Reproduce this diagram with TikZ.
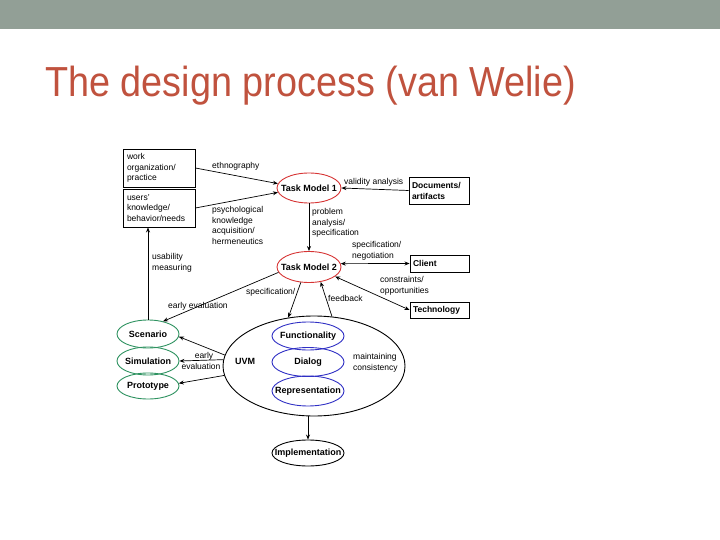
\documentclass[tikz,border=0pt]{standalone}
\usepackage{fontspec}
\setmainfont{Liberation Sans}
\usetikzlibrary{shapes.geometric,arrows.meta,positioning}

\definecolor{barGray}{RGB}{146,159,150}
\definecolor{titleRed}{RGB}{192,82,62}
\definecolor{tmRed}{RGB}{214,52,52}
\definecolor{uvmBlue}{RGB}{48,48,196}
\definecolor{protoGreen}{RGB}{46,146,96}

\tikzset{
  lbl/.style={font=\fontsize{8.5}{10.8}\selectfont, align=left, inner sep=0pt},
  box/.style={draw, line width=0.9pt, font=\fontsize{8.5}{10.5}\selectfont, align=left, inner sep=0pt},
  oval/.style={ellipse, draw, line width=0.9pt, inner sep=0pt},
  ovaltxt/.style={font=\bfseries\fontsize{9}{10}\selectfont, inner sep=0pt},
  arr/.style={-{Stealth[length=5pt,width=4pt]}, line width=0.7pt},
  darr/.style={{Stealth[length=5pt,width=4pt]}-{Stealth[length=5pt,width=4pt]}, line width=0.7pt}
}

\begin{document}
\begin{tikzpicture}[x=1pt,y=-1pt]
\useasboundingbox (0,0) rectangle (720,540);
\fill[barGray] (0,0) rectangle (720,29);

\node[anchor=base west, inner sep=0pt, text=titleRed] (title) at (45,97)
  {\scalebox{0.9}[1]{\fontsize{42}{42}\selectfont The design process (van Welie)}};

\node[box, minimum width=72pt, minimum height=38pt, text width=64pt] (work) at (159,168) {work\\organization/\\practice};
\node[box, minimum width=72pt, minimum height=38pt, text width=64pt] (users) at (159,208) {users'\\knowledge/\\behavior/needs};
\node[box, minimum width=60pt, minimum height=27pt, text width=54pt, font=\bfseries\fontsize{8.5}{11}\selectfont] (docs) at (439,190.5) {Documents/\\artifacts};
\node[box, minimum width=59pt, minimum height=17pt, text width=53pt, font=\bfseries\fontsize{8.5}{10}\selectfont] (client) at (439.5,263.5) {Client};
\node[box, minimum width=59pt, minimum height=16pt, text width=53pt, font=\bfseries\fontsize{8.5}{10}\selectfont] (tech) at (439.5,310) {Technology};

\node[oval, draw=tmRed, minimum width=64pt, minimum height=30pt, label={[ovaltxt]center:Task Model 1}] (tm1) at (309,188) {};
\node[oval, draw=tmRed, minimum width=64pt, minimum height=31pt, label={[ovaltxt]center:Task Model 2}] (tm2) at (309,267) {};

\node[oval, minimum width=182pt, minimum height=100pt] (uvm) at (314,366) {};
\node[oval, draw=uvmBlue, minimum width=72pt, minimum height=28pt, label={[ovaltxt]center:Functionality}] (func) at (308,336) {};
\node[oval, draw=uvmBlue, minimum width=72pt, minimum height=29pt, label={[ovaltxt]center:Dialog}] (dialog) at (308,362) {};
\node[oval, draw=uvmBlue, minimum width=72pt, minimum height=30pt, label={[ovaltxt]center:Representation}] (repr) at (308,391) {};
\node[oval, minimum width=72pt, minimum height=26pt, label={[ovaltxt]center:Implementation}] (impl) at (308,453) {};

\node[oval, draw=protoGreen, minimum width=62pt, minimum height=28pt, label={[ovaltxt]center:Scenario}] (scen) at (148,334) {};
\node[oval, draw=protoGreen, minimum width=62pt, minimum height=28pt, label={[ovaltxt]center:Simulation}] (sim) at (148,361) {};
\node[oval, draw=protoGreen, minimum width=62pt, minimum height=26pt, label={[ovaltxt]center:Prototype}] (proto) at (148,386) {};

\node[ovaltxt, anchor=west] (uvmlbl) at (235,361) {UVM};

\node[lbl, anchor=west] (ethno) at (212,166) {ethnography};
\node[lbl, anchor=north west] (psych) at (212,206) {psychological\\knowledge\\acquisition/\\hermeneutics};
\node[lbl, anchor=west] (valid) at (344,182) {validity analysis};
\node[lbl, anchor=north west] (probl) at (312,208) {problem\\analysis/\\specification};
\node[lbl, anchor=north west] (nego) at (352,241) {specification/\\negotiation};
\node[lbl, anchor=north west] (constr) at (380,276) {constraints/\\opportunities};
\node[lbl, anchor=north west] (usab) at (152,253) {usability\\measuring};
\node[lbl, anchor=west] (earlyA) at (168,306) {early evaluation};
\node[lbl, anchor=west] (specB) at (246,292) {specification/};
\node[lbl, anchor=west] (feedb) at (328,298) {feedback};
\node[lbl, align=center] (earlyB) at (201,361) {\hspace*{6pt}early\\evaluation};
\node[lbl, anchor=west] (maint) at (353,363) {maintaining\\consistency};

\draw[arr] (work.east) -- (tm1.172);
\draw[arr] (users.east) -- (tm1.188);
\draw[arr] (docs.west) -- (tm1.east);
\draw[arr] (tm1.south) -- (tm2.north);
\draw[darr] (tm2.6) -- (client.west);
\draw[darr] (tm2.-20) -- (tech.west);
\draw[arr] (tm2.190) -- (scen.40);
\draw[arr] (tm2.-118) -- (uvm.118);
\draw[arr] (uvm.70) -- (tm2.-52);
\draw[arr] (scen.north) -- (scen.north |- users.south);
\draw[arr] (uvm.173) -- (scen.-5);
\draw[arr] (uvm.176) -- (sim.east);
\draw[arr] (uvm.186) -- (proto.5);
\draw[arr] (impl.north |- uvm.south) -- (impl.north);
\end{tikzpicture}
\end{document}
